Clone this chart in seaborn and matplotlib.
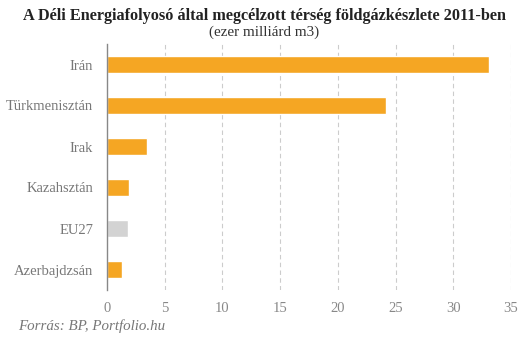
import matplotlib
matplotlib.use("Agg")
import matplotlib.pyplot as plt
import seaborn as sns
import pandas as pd

categories = ["Irán", "Türkmenisztán", "Irak", "Kazahsztán", "EU27", "Azerbajdzsán"]
values = [33.1, 24.2, 3.5, 1.9, 1.8, 1.3]
bar_colors = ["#F5A623", "#F5A623", "#F5A623", "#F5A623", "#D3D3D3", "#F5A623"]
xticks = [0, 5, 10, 15, 20, 25, 30, 35]

sns.set_theme(style="white")
plt.rcParams["font.family"] = ["Liberation Serif", "DejaVu Serif"]

df = pd.DataFrame({"country": categories, "value": values})

fig = plt.figure(figsize=(5.29, 3.40), dpi=100)
ax = fig.add_axes([107/529, 1-290/340, (511-107)/529, (290-44)/340])

sns.barplot(data=df, x="value", y="country", hue="country", palette=bar_colors,
            legend=False, width=0.42, ax=ax, saturation=1)

ax.set_xlim(0, 35)
ax.set_ylim(5.5, -0.5)
ax.set_xticks(xticks)
ax.set_xticklabels([str(t) for t in xticks], color="#888888", fontsize=10.5)
ax.tick_params(axis="x", length=0, pad=9)
ax.tick_params(axis="y", length=0, pad=10, labelsize=10.5, labelcolor="#777777")
ax.set_xlabel("")
ax.set_ylabel("")
for t in xticks[1:]:
    ax.axvline(t, color="#CCCCCC", lw=0.8, ls=(0, (4, 3)), zorder=0)
for s in ["top", "right", "bottom"]:
    ax.spines[s].set_visible(False)
ax.spines["left"].set_color("#888888")
ax.spines["left"].set_linewidth(1)

fig.text(0.5, 1-16/340, "A Déli Energiafolyosó által megcélzott térség földgázkészlete 2011-ben",
         ha="center", va="center", fontsize=11.7, fontweight="bold", color="#222222")
fig.text(0.5, 1-32/340, "(ezer milliárd m3)", ha="center", va="center",
         fontsize=10.9, color="#333333")
fig.text(18/529, 1-326/340, "Forrás: BP, Portfolio.hu", ha="left", va="center",
         fontsize=10.8, style="italic", color="#777777")

fig.savefig("out.png", dpi=100)
